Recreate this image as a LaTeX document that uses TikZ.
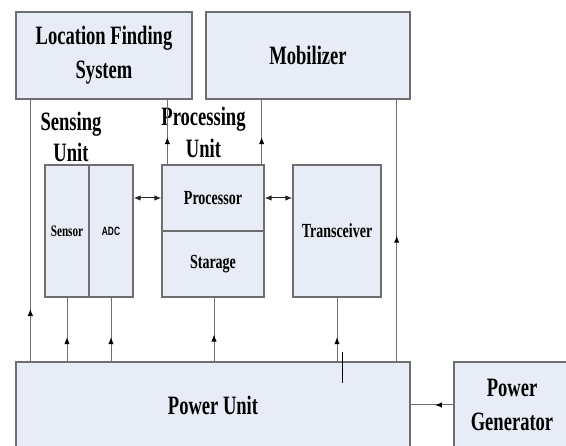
\documentclass[tikz,border=0pt]{standalone}
\usepackage{fontspec}
\setmainfont{Liberation Serif}[FakeStretch=0.7]
\newfontfamily\adcfont{Liberation Sans}[FakeStretch=0.7]
\usetikzlibrary{positioning,arrows.meta,decorations.markings}
\definecolor{boxfill}{HTML}{E7ECF6}
\definecolor{boxline}{HTML}{6E6E6E}
\definecolor{wire}{HTML}{707070}

\begin{document}
\begin{tikzpicture}[x=1pt,y=-1pt,
		box/.style={draw=boxline,fill=boxfill,line width=1.3pt,inner sep=0pt},
		bigtxt/.style={font=\fontsize{26.5}{34}\selectfont\bfseries,align=center},
		midtxt/.style={font=\fontsize{20}{24}\selectfont\bfseries},
		wireline/.style={draw=wire,line width=1pt},
		midarrow/.style={wireline,postaction={decorate},
			decoration={markings,mark=at position #1 with {\arrow[black]{Latex[length=7pt,width=5.5pt]}}}},
		both/.style={draw=black!85,line width=1pt,{Latex[length=7pt,width=5.5pt]}-{Latex[length=7pt,width=5.5pt]}}]
		\useasboundingbox (0,0) rectangle (566,446);
		% top blocks
		\node[box,bigtxt,minimum width=176,minimum height=87] (loc) at (104,55.5) {Location Finding\\System};
		\node[box,bigtxt,minimum width=204,minimum height=87] (mob) at (308,55.5) {Mobilizer};
		% labels
		\node[bigtxt,font=\fontsize{26.5}{31}\selectfont\bfseries] (senslbl) at (71,137) {Sensing\\Unit};
		\node[bigtxt,font=\fontsize{26.5}{32}\selectfont\bfseries] (proclbl) at (203.5,132) {Processing\\Unit};
		% middle blocks
		\node[box,minimum width=44,minimum height=132,font=\fontsize{16}{18}\selectfont\bfseries] (sensor) at (67,231) {Sensor};
		\node[box,minimum width=44,minimum height=132,font=\fontsize{12}{14}\adcfont\bfseries] (adc) at (111,231) {ADC};
		\node[box,midtxt,minimum width=102,minimum height=66] (proc) at (213,198) {Processor};
		\node[box,midtxt,minimum width=102,minimum height=66] (stor) at (213,264) {Starage};
		\node[box,midtxt,minimum width=88,minimum height=132] (trans) at (337,231) {Transceiver};
		% bottom blocks
		\node[box,bigtxt,minimum width=394,minimum height=86] (power) at (213,405) {Power Unit};
		\node[box,bigtxt,minimum width=116,minimum height=86] (gen) at (512,405) {Power\\Generator};
		% connectors
		\draw[midarrow=0.2] ([xshift=15]power.north west) -- ([xshift=15]loc.south west);
		\draw[midarrow=0.38] (power.north -| sensor) -- (sensor.south);
		\draw[midarrow=0.38] (power.north -| adc) -- (adc.south);
		\draw[midarrow=0.42] ([xshift=1]power.north -| stor) -- ([xshift=1]stor.south);
		\draw[midarrow=0.38] (power.north -| trans) -- (trans.south);
		\draw[midarrow=0.48] ([xshift=-14]power.north east) -- ([xshift=-14]mob.south east);
		\draw[midarrow=0.42] ([xshift=6]proc.north west) -- ([xshift=6]proc.north west |- loc.south);
		\draw[midarrow=0.42] ([xshift=-3]proc.north east) -- ([xshift=-3]proc.north east |- mob.south);
		\draw[midarrow=0.43] (gen.west) -- (power.east);
		\draw[both] (adc.east |- proc.center) -- (proc.west);
		\draw[both] (proc.east) -- (trans.west |- proc.center);
		\draw[black,line width=0.9pt] (342,352) -- (342,383);
	\end{tikzpicture}
\end{document}
